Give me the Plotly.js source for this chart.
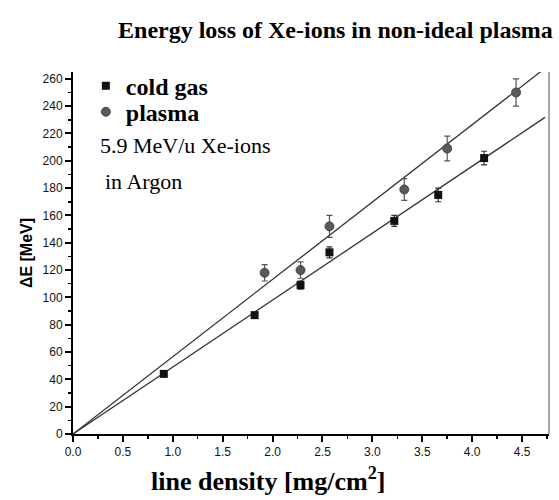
<!DOCTYPE html>
<html>
<head>
<meta charset="utf-8">
<script src="https://cdn.plot.ly/plotly-3.0.1.min.js"></script>
<style>html,body{margin:0;padding:0;background:#fff;}#chart{width:559px;height:500px;}</style>
</head>
<body>
<div id="chart"></div>
<script>
// Data
const coldX   = [0.91, 1.82, 2.28, 2.57, 3.22, 3.66, 4.12];
const coldY   = [44, 87, 109, 133, 156, 175, 202];
const coldErr = [1.5, 2, 3, 4, 4, 5, 5];

const plasmaX   = [1.92, 2.28, 2.57, 3.32, 3.75, 4.44];
const plasmaY   = [118, 120, 152, 179, 209, 250];
const plasmaErr = [6, 6, 8, 8, 9, 10];

// Linear fits through the origin (slope in MeV per mg/cm^2) and their end x
const fitNames  = ['cold gas fit', 'plasma fit'];
const fitSlopes = [49, 56.6];
const fitEndX   = [4.73, 4.70];

const traces = [];
fitSlopes.forEach((s, i) => {
  traces.push({
    x: [0, fitEndX[i]], y: [0, s * fitEndX[i]],
    mode: 'lines', name: fitNames[i], showlegend: false, cliponaxis: false,
    line: {color: '#333', width: 1.3}, hoverinfo: 'skip'
  });
});
traces.push({
  x: coldX, y: coldY, name: '<b>cold gas</b>', mode: 'markers', legend: 'legend',
  marker: {symbol: 'square', color: '#111', size: 8},
  error_y: {type: 'data', array: coldErr, visible: true, color: '#333', thickness: 1.2, width: 3}
});
traces.push({
  x: plasmaX, y: plasmaY, name: '<b>plasma</b>', mode: 'markers', legend: 'legend2',
  marker: {symbol: 'circle', color: '#5a5a5a', size: 9, line: {color: '#333', width: 0.8}},
  error_y: {type: 'data', array: plasmaErr, visible: true, color: '#555', thickness: 1.2, width: 3}
});

const serif = 'Liberation Serif, Times New Roman, serif';
const sans = 'Liberation Sans, Arial, sans-serif';
const tickFont = {family: sans, size: 12, color: '#111'};
const legendBase = {
  xanchor: 'left', yanchor: 'middle', bgcolor: 'rgba(0,0,0,0)', borderwidth: 0,
  itemwidth: 30, font: {family: serif, size: 24, color: '#000'}
};
const layout = {
  width: 559, height: 500,
  margin: {l: 73, r: 10, t: 72, b: 66},
  paper_bgcolor: '#fff', plot_bgcolor: '#fff',
  title: {
    text: '<b>Energy loss of Xe-ions in non-ideal plasma</b>',
    font: {family: serif, size: 24, color: '#000'},
    x: 0.6, xanchor: 'center', y: 0.94, yanchor: 'middle'
  },
  xaxis: {
    range: [0, 4.77], dtick: 0.5, tick0: 0, tickformat: '.1f',
    showgrid: false, zeroline: false,
    showline: true, linecolor: '#000', linewidth: 2,
    ticks: 'outside', ticklen: 6, tickwidth: 2, tickcolor: '#000',
    minor: {dtick: 0.25, ticks: 'outside', ticklen: 3, tickwidth: 1.5, tickcolor: '#000', showgrid: false},
    tickfont: tickFont
  },
  yaxis: {
    range: [0, 265], dtick: 20, tick0: 0,
    showgrid: false, zeroline: false,
    showline: true, linecolor: '#000', linewidth: 2,
    ticks: 'outside', ticklen: 6, tickwidth: 2, tickcolor: '#000',
    minor: {dtick: 10, ticks: 'outside', ticklen: 3, tickwidth: 1.5, tickcolor: '#000', showgrid: false},
    tickfont: tickFont,
    title: {text: '<b>ΔE [MeV]</b>', standoff: 6,
            font: {family: sans, size: 16, color: '#000'}}
  },
  showlegend: true,
  legend: Object.assign({}, legendBase, {x: 0.027, y: 0.961}),
  legend2: Object.assign({}, legendBase, {x: 0.027, y: 0.889}),
  shapes: [{type: 'line', xref: 'paper', yref: 'paper', x0: 1, x1: 1, y0: 0, y1: 1,
            line: {color: '#888', width: 1.5}}],
  annotations: [
    {xref: 'paper', yref: 'paper', x: 0.053, y: 0.796, xanchor: 'left', yanchor: 'middle',
     text: '5.9 MeV/u Xe-ions', showarrow: false,
     font: {family: serif, size: 22, color: '#000'}},
    {xref: 'paper', yref: 'paper', x: 0.064, y: 0.697, xanchor: 'left', yanchor: 'middle',
     text: 'in Argon', showarrow: false,
     font: {family: serif, size: 22, color: '#000'}},
    // x-axis title (sits left of the plot centre in the reference)
    {xref: 'paper', yref: 'paper', x: 0.41, y: -0.074, xanchor: 'center', yanchor: 'top',
     text: '<b>line density [mg/cm<sup>2</sup>]</b>', showarrow: false,
     font: {family: serif, size: 26, color: '#000'}}
  ]
};

Plotly.newPlot('chart', traces, layout, {displayModeBar: false, staticPlot: true});
</script>
</body>
</html>
